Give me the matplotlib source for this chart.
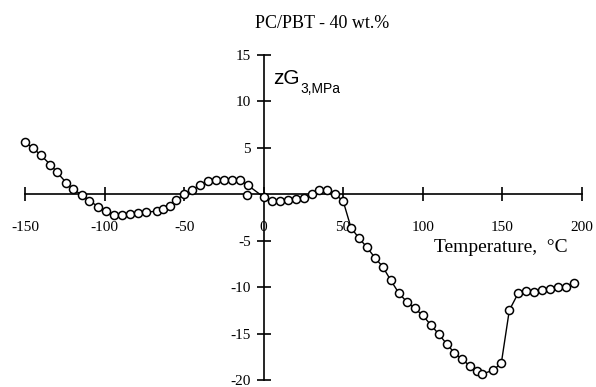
import matplotlib
matplotlib.use("Agg")
import matplotlib.pyplot as plt

# zG3 (MPa) vs temperature (C), PC/PBT 40 wt.%
temp = [-150, -145, -140, -134, -130, -124, -120, -114, -109.5, -104, -99, -94,
        -89, -84, -79, -74, -67, -63, -59, -55, -50, -45, -40, -35, -30, -25,
        -20, -15, -10, 0, 5, 10, 15.5, 20.5, 25.5, 30.5, 35, 40, 45, 50,
        55, 60, 65, 70, 75, 80, 85, 90, 95, 100, 105, 110, 115, 120, 125,
        130, 134, 137.5, 144.5, 149.5, 154.5, 160, 165, 170, 175, 180, 185,
        190, 195]
zg3 = [5.6, 5.0, 4.2, 3.2, 2.4, 1.25, 0.55, -0.05, -0.7, -1.3, -1.8, -2.25,
       -2.2, -2.1, -1.95, -1.9, -1.8, -1.6, -1.2, -0.6, 0.0, 0.5, 1.0, 1.45, 1.5, 1.5,
       1.5, 1.5, 1.0, -0.28, -0.7, -0.7, -0.65, -0.45, -0.35, 0.05, 0.45, 0.5, 0.0, -0.7,
       -3.6, -4.7, -5.7, -6.8, -7.8, -9.25, -10.6, -11.55, -12.25, -13.0, -14.0,
       -15.0, -16.05, -17.05, -17.75, -18.5, -19.0, -19.3, -18.9, -18.1, -12.45,
       -10.65, -10.35, -10.45, -10.25, -10.2, -10.0, -9.9, -9.5]
# a lone repeat measurement just below the curve near -10 C
extra_temp = [-10.5]
extra_zg3 = [-0.05]

xticks = [-150, -100, -50, 0, 50, 100, 150, 200]
yticks = [-20, -15, -10, -5, 5, 10, 15]

serif = "Liberation Serif"
sans = "Liberation Sans"

fig = plt.figure(figsize=(5.96, 3.87), dpi=100)
ax = fig.add_axes([0.042, 0.017, 0.934, 0.841])

marker_style = dict(marker="o", markersize=5.8, markerfacecolor="white",
                    markeredgecolor="black", markeredgewidth=1.1)
ax.plot(temp, zg3, "-", color="black", linewidth=1.0, zorder=3,
        clip_on=False, **marker_style)
ax.plot(extra_temp, extra_zg3, linestyle="none", zorder=3, **marker_style)

ax.set_xlim(-150, 200)
ax.set_ylim(-20, 15)

# crossing axes through the origin, no frame
for side in ["top", "right"]:
    ax.spines[side].set_visible(False)
for side in ["left", "bottom"]:
    ax.spines[side].set_position(("data", 0))
    ax.spines[side].set_linewidth(1.2)

ax.set_xticks(xticks)
ax.set_yticks(yticks)
ax.set_xticklabels([str(t) for t in xticks], fontfamily=serif, fontsize=11)
ax.set_yticklabels([str(t) for t in yticks], fontfamily=serif, fontsize=11)
ax.tick_params(axis="both", direction="inout", length=10, width=1.2)
ax.tick_params(axis="x", pad=14)
ax.tick_params(axis="y", pad=4)
ax.patch.set_visible(False)

fig.text(0.54, 0.94, "PC/PBT - 40 wt.%", fontfamily=serif, fontsize=13,
         ha="center", va="center")
fig.text(0.728, 0.36, "Temperature,  \u00b0C", fontfamily=serif, fontsize=14,
         ha="left", va="center")

zg = fig.text(0.459, 0.782, "zG", fontfamily=sans, fontsize=15,
              ha="left", va="baseline")
ax.annotate("3,MPa", xy=(1.0, 0.0), xycoords=zg, xytext=(0.5, -3),
            textcoords="offset points", fontfamily=sans, fontsize=10,
            ha="left", va="baseline")

fig.savefig("out.png", dpi=100, facecolor="white")
